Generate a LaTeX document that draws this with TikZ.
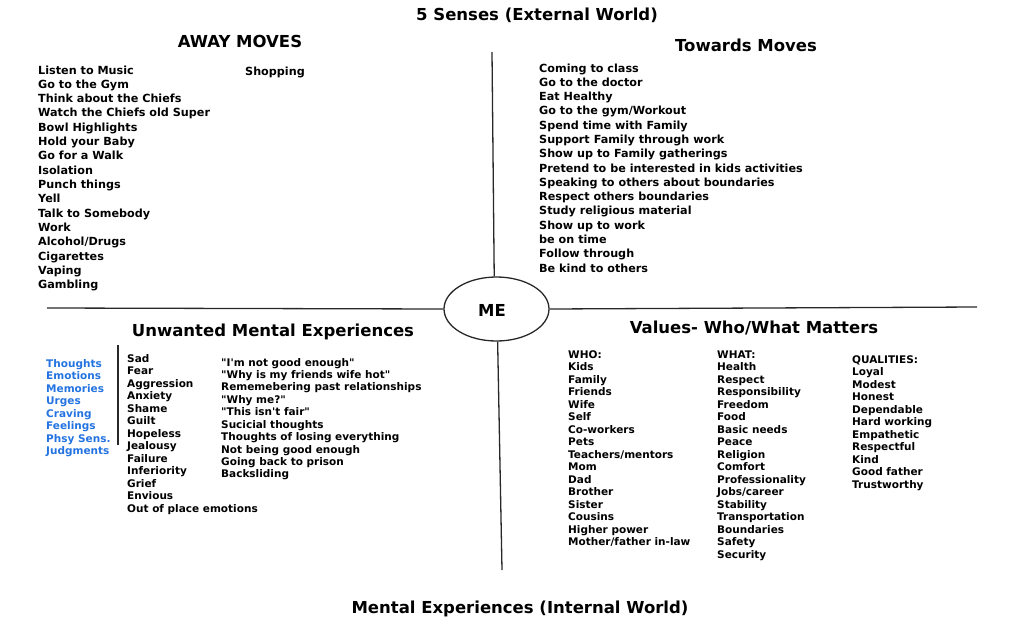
\documentclass[tikz,border=0pt]{standalone}
\usepackage{fontspec}
\usetikzlibrary{shapes.geometric}
\setmainfont{DejaVu Sans}[Ligatures=TeXOff]
\definecolor{lineclr}{RGB}{40,40,40}
\definecolor{catblue}{RGB}{35,115,225}
\tikzset{
  head/.style={font=\fontsize{16.5}{20}\selectfont\bfseries, inner sep=0pt, anchor=base},
  bigitem/.style={font=\fontsize{11.2}{14}\selectfont\bfseries, inner sep=0pt, anchor=base west},
  smallitem/.style={font=\fontsize{10.5}{12}\selectfont\bfseries, inner sep=0pt, anchor=base west},
  blueitem/.style={smallitem, text=catblue},
  axis/.style={draw=lineclr, line width=1.3pt},
}
\begin{document}
\begin{tikzpicture}[x=1pt,y=-1pt]
\useasboundingbox (0,0) rectangle (1012,624);
% titles
\node[head] (ext) at (537,20) {5 Senses (External World)};
\node[head] (away) at (240,47) {AWAY MOVES};
\node[head] (tow) at (746,51) {Towards Moves};
\node[head] (unw) at (273,336) {Unwanted Mental Experiences};
\node[head] (val) at (754,333) {Values- Who/What Matters};
\node[head] (int) at (520,613) {Mental Experiences (Internal World)};
% centre
\node[draw=lineclr, line width=1.3pt, ellipse, minimum width=105pt, minimum height=64pt, inner sep=0pt] (me) at (496.5,309) {};
\node[head] (metxt) at (492,316) {ME};
\coordinate (topend) at (492,52);
\coordinate (botend) at (502,570);
\coordinate (leftend) at (47,308);
\coordinate (rightend) at (977,307);
\draw[axis] (topend) -- (me.94);
\draw[axis] (me.-88) -- (botend);
\draw[axis] (leftend) -- (me.west);
\draw[axis] (me.east) -- (rightend);
\coordinate (sepa) at (118,345);
\coordinate (sepb) at (118,445);
\draw[axis, line width=1.1pt] (sepa) -- (sepb);
% away moves
\foreach \t [count=\i] in {Listen to Music, Go to the Gym, Think about the Chiefs, Watch the Chiefs old Super, Bowl Highlights, Hold your Baby, Go for a Walk, Isolation, Punch things, Yell, Talk to Somebody, Work, Alcohol/Drugs, Cigarettes, Vaping, Gambling}
  \node[bigitem] (aw\i) at (38,{74+(\i-1)*14.33}) {\t};
\node[bigitem] (shop) at (245,75) {Shopping};
% towards moves
\foreach \t [count=\i] in {Coming to class, Go to the doctor, Eat Healthy, Go to the gym/Workout, Spend time with Family, Support Family through work, Show up to Family gatherings, Pretend to be interested in kids activities, Speaking to others about boundaries, Respect others boundaries, Study religious material, Show up to work, be on time, Follow through, Be kind to others}
  \node[bigitem] (tw\i) at (539,{72+(\i-1)*14.29}) {\t};
% blue categories
\foreach \t [count=\i] in {Thoughts, Emotions, Memories, Urges, Craving, Feelings, Phsy Sens., Judgments}
  \node[blueitem] (bl\i) at (46,{367+(\i-1)*12.57}) {\t};
% emotions
\foreach \t [count=\i] in {Sad, Fear, Aggression, Anxiety, Shame, Guilt, Hopeless, Jealousy, Failure, Inferiority, Grief, Envious, Out of place emotions}
  \node[smallitem] (em\i) at (127,{362+(\i-1)*12.5}) {\t};
% thoughts
\foreach \t [count=\i] in {"I'm not good enough", "Why is my friends wife hot", Rememebering past relationships, "Why me?", "This isn't fair", Sucicial thoughts, Thoughts of losing everything, Not being good enough, Going back to prison, Backsliding}
  \node[smallitem] (th\i) at (221,{366+(\i-1)*12.44}) {\t};
% who
\foreach \t [count=\i] in {WHO:, Kids, Family, Friends, Wife, Self, Co-workers, Pets, Teachers/mentors, Mom, Dad, Brother, Sister, Cousins, Higher power, Mother/father in-law}
  \node[smallitem] (who\i) at (568,{358+(\i-1)*12.53}) {\t};
% what
\foreach \t [count=\i] in {WHAT:, Health, Respect, Responsibility, Freedom, Food, Basic needs, Peace, Religion, Comfort, Professionality, Jobs/career, Stability, Transportation, Boundaries, Safety, Security}
  \node[smallitem] (wh\i) at (717,{358+(\i-1)*12.5}) {\t};
% qualities
\foreach \t [count=\i] in {QUALITIES:, Loyal, Modest, Honest, Dependable, Hard working, Empathetic, Respectful, Kind, Good father, Trustworthy}
  \node[smallitem] (q\i) at (852,{363+(\i-1)*12.5}) {\t};
\end{tikzpicture}
\end{document}
